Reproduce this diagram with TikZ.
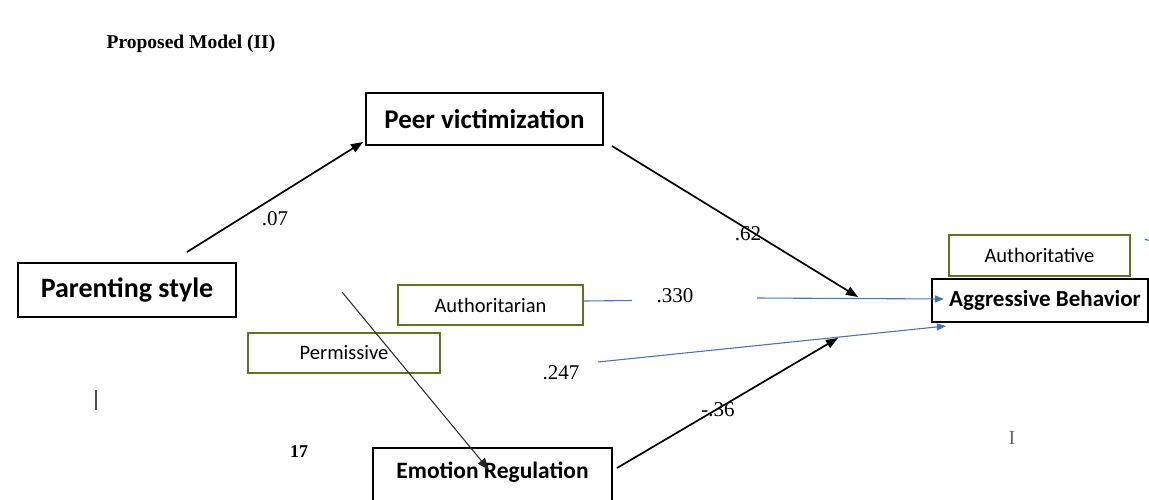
\documentclass[tikz,border=0pt]{standalone}
\usepackage{fontspec}
\setmainfont{Liberation Serif}
\newfontfamily\carlitofont{Carlito}
\usetikzlibrary{arrows.meta}
\definecolor{boxgreen}{RGB}{95,115,35}
\definecolor{lineblue}{RGB}{80,115,175}
\definecolor{tipblue}{RGB}{45,115,200}
\tikzset{
  bigbox/.style={draw=black, line width=2.8pt, inner sep=0pt, font=\carlitofont\bfseries\fontsize{27}{32}\selectfont},
  catbox/.style={draw=boxgreen, line width=1.5pt, inner sep=0pt, font=\carlitofont\fontsize{20.5}{24}\selectfont},
  blk/.style={draw=black, line width=1.7pt, -{Triangle[length=12pt,width=9pt]}},
  thinblk/.style={draw=black!85, line width=1pt, -{Triangle[length=12pt,width=9pt]}},
  blu/.style={draw=lineblue, line width=1.1pt},
  bluarr/.style={draw=lineblue, line width=1.1pt, -{Triangle[length=9pt,width=7pt,fill=tipblue]}},
  coef/.style={font=\fontsize{21}{25}\selectfont, inner sep=0pt},
}
\begin{document}
\begin{tikzpicture}[x=1pt,y=-1pt]
\useasboundingbox (0,0) rectangle (1149,499);
% title
\node[font=\bfseries\fontsize{19.5}{22}\selectfont, inner sep=0pt] (title) at (191,44) {Proposed Model (II)};
% main boxes
\node[bigbox, minimum width=237pt, minimum height=52pt] (peer) at (484.5,119) {Peer victimization};
\node[bigbox, font=\carlitofont\bfseries\fontsize{28}{33}\selectfont, minimum width=218pt, minimum height=54pt] (parent) at (127,290) {Parenting style};
\node[bigbox, font=\carlitofont\bfseries\fontsize{23.5}{28}\selectfont, minimum width=239pt, text height=20pt, text depth=40pt, inner ysep=10pt] (emo) at (492.5,488) {Emotion Regulation};
\node[bigbox, font=\carlitofont\bfseries\fontsize{23}{27}\selectfont, minimum width=216pt, minimum height=43pt] (aggr) at (1040,300.5) {\hspace*{10pt}Aggressive Behavior};
% category boxes
\node[catbox, minimum width=181pt, minimum height=41pt] (autv) at (1039.5,255.5) {Authoritative};
\node[catbox, minimum width=185pt, minimum height=40pt] (autn) at (490.5,305) {Authoritarian};
\node[catbox, minimum width=192pt, minimum height=40pt] (perm) at (344,353) {Permissive};
% free ends
\coordinate (ps1) at (187,252);
\coordinate (pe1) at (363,142);
\coordinate (pv1) at (612,146);
\coordinate (ag1) at (858,297);
\coordinate (pd1) at (342,292);
\coordinate (er1) at (489,470);
\coordinate (er2) at (617,468);
\coordinate (ag2) at (838,338);
\coordinate (bl1) at (632,300.5);
\coordinate (bl2) at (757,298);
\coordinate (bl3) at (944,299);
\coordinate (bl4) at (598,362);
\coordinate (bl5) at (946,326);
% connectors
\draw[blk] (ps1) -- (pe1);
\draw[blk] (pv1) -- (ag1);
\draw[thinblk] (pd1) -- (er1);
\draw[blk] (er2) -- (ag2);
\draw[blu] ([yshift=4pt]autn.east) -- (bl1);
\draw[bluarr] (bl2) -- (bl3);
\draw[bluarr] (bl4) -- (bl5);
\draw[draw=tipblue, line width=1.2pt] (autv.east) ++(14pt,16pt) coordinate (tk1) -- ++(6pt,-1pt) coordinate (tk2);
% coefficients
\node[coef] (c07) at (275,219) {.07};
\node[coef] (c62) at (748,234) {.62};
\node[coef] (c36) at (718,410) {-.36};
\node[coef] (c330) at (675,296) {.330};
\node[coef] (c247) at (561,373) {.247};
% stray marks
\draw[black!70, line width=1.2pt] (96,390) coordinate (s1) -- (96,410) coordinate (s2);
\node[font=\bfseries\fontsize{18}{21}\selectfont, inner sep=0pt] (pg) at (299,452) {17};
\node[font=\fontsize{20}{24}\selectfont, text=black!60, inner sep=0pt] (cur) at (1012,438) {I};
\end{tikzpicture}
\end{document}
